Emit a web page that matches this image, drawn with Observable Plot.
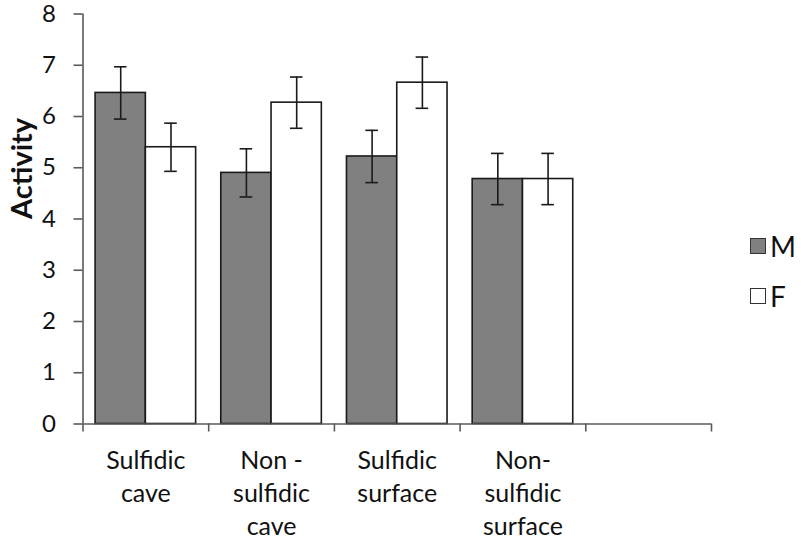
<!DOCTYPE html>
<html>
<head>
<meta charset="utf-8">
<script src="https://cdn.jsdelivr.net/npm/d3@7"></script>
<script src="https://cdn.jsdelivr.net/npm/@observablehq/plot@0.6"></script>
<style>
  body { margin: 0; background: #fff; }
  #chart { position: relative; width: 801px; height: 544px; font-family: Lato, "Open Sans", sans-serif; }
  #chart svg { position: absolute; left: 0; top: 0; overflow: visible; }
  .legend { position: absolute; left: 750px; font-size: 28px; color: #111; }
  .legend .item { position: absolute; display: flex; align-items: center; white-space: nowrap; }
  .legend .swatch { width: 14px; height: 14px; border: 1.5px solid #333; margin-right: 4px; }
</style>
</head>
<body>
<div id="chart"></div>
<script>
// Mean activity by habitat and sex, with error bars
const categories = ["Sulfidic\ncave", "Non -\nsulfidic\ncave", "Sulfidic\nsurface", "Non-\nsulfidic\nsurface"];
const slotCount = 5; // the axis keeps one trailing empty slot
const series = ["M", "F"];
const seriesColors = ["#808080", "#ffffff"];
const maleMeans = [6.46, 4.90, 5.22, 4.78];
const femaleMeans = [5.40, 6.27, 6.66, 4.78];
const maleErr = [0.51, 0.47, 0.51, 0.50];
const femaleErr = [0.47, 0.50, 0.50, 0.50];
const yTicks = [0, 1, 2, 3, 4, 5, 6, 7, 8];

// Each category owns one unit of the x scale; the two bars sit inside it
const groupPad = 0.1;
const barSpan = 0.4;
const capHalf = 0.05;

const means = [maleMeans, femaleMeans];
const errs = [maleErr, femaleErr];
const rows = [];
categories.forEach((cat, i) => {
  series.forEach((sex, s) => {
    const start = i + groupPad + s * barSpan;
    rows.push({
      cat, sex,
      x1: start, x2: start + barSpan, xc: start + barSpan / 2,
      value: means[s][i], err: errs[s][i]
    });
  });
});

const ink = "#1a1a1a";
const axisInk = "#5a5a5a";
const font = "Lato, 'Open Sans', sans-serif";

const chart = Plot.plot({
  width: 801,
  height: 544,
  marginLeft: 82.5,
  marginRight: 90,
  marginTop: 13.5,
  marginBottom: 120.5,
  style: { fontFamily: font, background: "transparent", color: "#111" },
  x: { domain: [0, slotCount], axis: null },
  y: { domain: [0, 8], axis: null },
  color: { domain: series, range: seriesColors },
  marks: [
    Plot.rectY(rows, {
      x1: "x1", x2: "x2", y1: 0, y2: "value",
      fill: "sex", stroke: ink, strokeWidth: 1.6
    }),
    // error bars: stem plus top and bottom caps
    Plot.ruleX(rows, { x: "xc", y1: d => d.value - d.err, y2: d => d.value + d.err, stroke: ink, strokeWidth: 1.6 }),
    Plot.ruleY(rows, { y: d => d.value + d.err, x1: d => d.xc - capHalf, x2: d => d.xc + capHalf, stroke: ink, strokeWidth: 1.6 }),
    Plot.ruleY(rows, { y: d => d.value - d.err, x1: d => d.xc - capHalf, x2: d => d.xc + capHalf, stroke: ink, strokeWidth: 1.6 }),
    // axis lines
    Plot.ruleY([0], { stroke: axisInk, strokeWidth: 1.6 }),
    Plot.ruleX([0], { stroke: axisInk, strokeWidth: 1.6 }),
    Plot.axisY({
      ticks: yTicks, tickSize: 9, tickPadding: 18, fontSize: 24,
      label: null, stroke: axisInk, strokeWidth: 1.6, strokeOpacity: 1, color: "#111"
    }),
    // slot boundary ticks
    Plot.axisX({
      ticks: d3.range(slotCount + 1), tickSize: 8, tickFormat: () => "",
      label: null, stroke: axisInk, strokeWidth: 1.6, strokeOpacity: 1
    }),
    // category labels centred in each slot
    Plot.axisX({
      ticks: categories.map((_, i) => i + 0.5), tickSize: 0, tickPadding: 21,
      tickFormat: d => categories[Math.floor(d)], label: null,
      fontSize: 25, lineHeight: 1.33, color: "#111"
    }),
    Plot.text(["Activity"], {
      frameAnchor: "left", rotate: -90, dx: -60,
      fontSize: 29, fontWeight: "bold", fill: "#111"
    })
  ]
});

const root = document.getElementById("chart");
root.appendChild(chart);

// legend to the right of the plot
const legend = document.createElement("div");
legend.className = "legend";
const tops = [229, 279];
series.forEach((s, i) => {
  const item = document.createElement("div");
  item.className = "item";
  item.style.top = tops[i] + "px";
  const sw = document.createElement("div");
  sw.className = "swatch";
  sw.style.background = seriesColors[i];
  const label = document.createElement("span");
  label.textContent = s;
  item.append(sw, label);
  legend.appendChild(item);
});
root.appendChild(legend);
</script>
</body>
</html>
